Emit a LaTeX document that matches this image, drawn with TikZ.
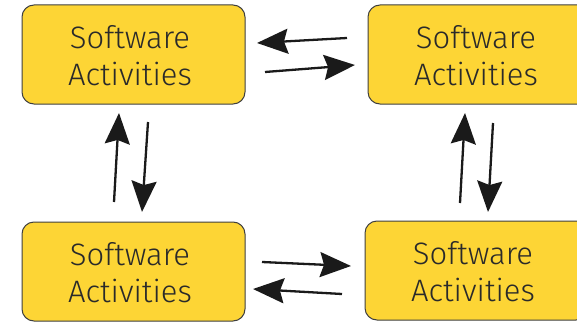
\documentclass[tikz,border=0pt]{standalone}
\usepackage{fontspec}
\setmainfont{Fira Sans}[UprightFont={* Light}]
\usetikzlibrary{arrows.meta}
\definecolor{boxfill}{HTML}{FDD535}
\definecolor{boxline}{HTML}{3F3F3F}
\definecolor{ink}{HTML}{1A1A1A}
\definecolor{txt}{HTML}{2A2A2A}
\tikzset{
  actbox/.style={draw=boxline, line width=1pt, fill=boxfill, rounded corners=12pt,
    minimum width=223pt, minimum height=99pt, inner sep=0pt},
  acttext/.style={inner sep=0pt, align=center, text=txt,
    font=\fontsize{31}{37}\selectfont},
  flow/.style={draw=ink, line width=2.3pt,
    -{Stealth[length=31pt, width=25pt, inset=4pt]}}
}
\begin{document}
\begin{tikzpicture}[x=1pt, y=-1pt]
\useasboundingbox (0,0) rectangle (577,321);
\clip (0,0) rectangle (577,321);
% the four activity boxes
\node[actbox] (tl) at (133.5,54.5) {};
\node[actbox] (tr) at (479.5,54.5) {};
\node[actbox] (bl) at (133.5,271.5) {};
\node[actbox] (br) at (476.5,270.5) {};
% their captions, set a little left of centre
\foreach \b in {tl,tr,bl,br}
  \node[acttext] (\b-text) at ([shift={(-3.5,1.5)}]\b.center) {Software\\Activities};
% arrow ends between the boxes
\coordinate (t1s) at (347,38);  \coordinate (t1e) at (257,43);
\coordinate (t2s) at (265,72);  \coordinate (t2e) at (355,65);
\coordinate (b1s) at (262,262); \coordinate (b1e) at (351,266);
\coordinate (b2s) at (342,294); \coordinate (b2e) at (253,289);
\coordinate (l1s) at (114,202); \coordinate (l1e) at (119,113);
\coordinate (l2s) at (148,122); \coordinate (l2e) at (142,212);
\coordinate (r1s) at (460,203); \coordinate (r1e) at (465,113);
\coordinate (r2s) at (493,123); \coordinate (r2e) at (488,212);
% paired flows
\draw[flow] (t1s) -- (t1e);
\draw[flow] (t2s) -- (t2e);
\draw[flow] (b1s) -- (b1e);
\draw[flow] (b2s) -- (b2e);
\draw[flow] (l1s) -- (l1e);
\draw[flow] (l2s) -- (l2e);
\draw[flow] (r1s) -- (r1e);
\draw[flow] (r2s) -- (r2e);
\end{tikzpicture}
\end{document}
